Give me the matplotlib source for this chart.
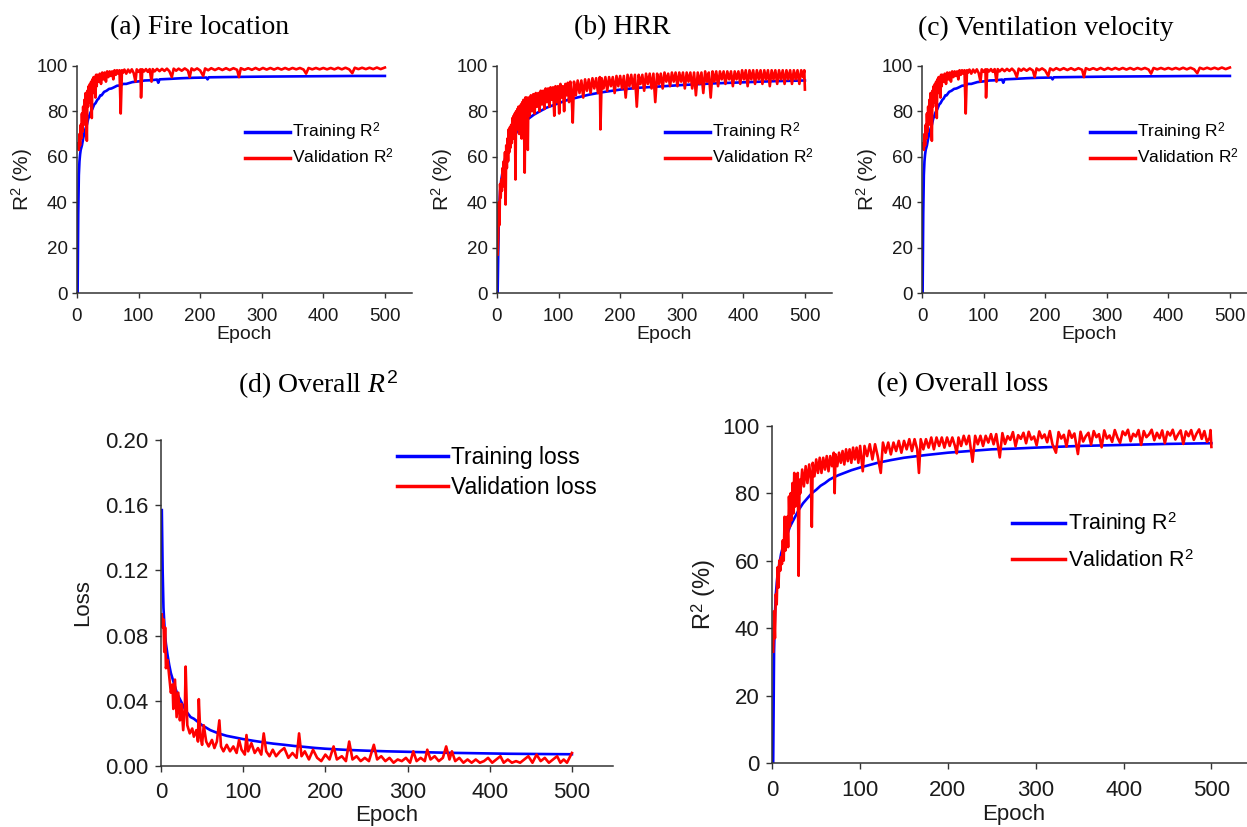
import numpy as np
import matplotlib
matplotlib.use('Agg')
import matplotlib.pyplot as plt

plt.rcParams['font.family'] = 'Liberation Sans'
plt.rcParams['mathtext.fontset'] = 'custom'
plt.rcParams['mathtext.rm'] = 'Liberation Sans'
plt.rcParams['mathtext.it'] = 'Liberation Serif:italic'

# ---- fire location / ventilation velocity R2 (%) ----
fire_train_ep = [1, 2, 3, 4, 5, 6, 8, 10, 12, 14, 16, 18, 20, 22, 25, 28, 30, 33, 35, 38, 40, 44, 48, 52,
                 56, 60, 65, 70, 75, 80, 90, 100, 110, 120, 130, 132, 134, 150, 170, 190, 210, 212, 214,
                 240, 270, 300, 350, 400, 450, 500]
fire_train = [0, 35, 52, 58, 61, 63, 65, 68, 70.5, 72.5, 74, 76.5, 78, 79.5, 81, 83, 83.5, 85, 85.5, 87,
              87, 88.5, 89, 89.8, 90, 90.5, 91.2, 91.3, 92, 92, 92.8, 93.1, 93.5, 93.6, 93.9, 92.5, 94,
              94.2, 94.5, 94.7, 94.8, 94, 94.9, 95, 95.1, 95.2, 95.3, 95.4, 95.5, 95.5]
fire_val_ep = [1, 2, 3, 4, 5, 6, 7, 8, 9, 10, 11, 12, 13, 14, 15, 16, 17, 18, 19, 20, 21, 22, 23, 24, 25,
               26, 27, 28, 29, 30, 31, 32, 33, 35, 37, 39, 41, 43, 45, 47, 49, 51, 53, 55, 57, 59, 61, 63,
               65, 67, 69, 71, 73, 75, 77, 80, 83, 86, 89, 92, 95, 97, 100, 103, 104, 106, 109, 112, 115,
               118, 121, 123, 126, 130, 134, 138, 142, 146, 150, 154, 157, 161, 165, 170, 175, 180, 183,
               186, 190, 195, 200, 205, 208, 213, 218, 224, 230, 236, 242, 248, 254, 260, 263, 266, 272,
               278, 284, 290, 296, 302, 308, 314, 320, 326, 332, 338, 344, 350, 356, 362, 368, 372, 376,
               382, 388, 394, 400, 406, 412, 418, 424, 430, 436, 442, 447, 451, 457, 463, 469, 475, 481,
               487, 493, 500]
fire_val = [64, 66, 63, 70, 65, 74, 68, 79, 71, 82, 74, 85, 77, 88, 80, 67, 89, 82, 91, 84, 92, 86, 93, 77,
            94, 88, 95, 90, 95, 86, 96, 91, 96, 93, 96.5, 92, 97, 94, 97, 93, 97.5, 95, 97.5, 95.5, 97.5,
            94, 98, 96, 98, 96.5, 98, 79, 98, 97, 98.3, 96.5, 98.3, 97, 98.4, 96.8, 93, 98.4, 97.3, 98.4,
            86, 98.4, 97.5, 98.5, 97.3, 98.5, 93, 98.5, 97.5, 98.6, 97.6, 98.6, 97.7, 98.7, 97.6, 95,
            98.7, 97.8, 98.7, 97.8, 98.8, 97.9, 95, 98.8, 98, 98.8, 97.9, 95.5, 98.8, 98, 98.9, 98.1,
            98.9, 98.1, 98.9, 98.1, 98.9, 98.2, 95, 98.9, 98.2, 98.9, 98.2, 99, 98.2, 99, 98.3, 99, 98.3,
            99, 98.3, 99, 98.3, 99, 98.4, 99, 98.3, 96.5, 99, 98.4, 99, 98.4, 99, 98.4, 99, 98.4, 99.1,
            98.4, 99.1, 98.4, 96.7, 99.1, 98.5, 99.1, 98.5, 99.1, 98.5, 99.2, 98.5, 99.2]

# ---- HRR R2 (%) ----
hrr_train_ep = [1, 2, 3, 4, 5, 7, 10, 13, 16, 20, 25, 30, 35, 40, 45, 50, 55, 60, 70, 80, 90, 100, 115,
                130, 150, 170, 200, 230, 260, 300, 350, 400, 450, 500]
hrr_train = [0, 17, 33, 40, 45, 50, 55, 59, 62, 65, 68, 70, 72, 74, 75.5, 76.5, 77.5, 78.5, 80, 81.5,
             82.5, 83.5, 85, 86, 87.3, 88.3, 89.5, 90.3, 90.8, 91.5, 92.2, 92.7, 93.2, 93.5]
hrr_val_ep = [1, 2, 3, 4, 5, 6, 7, 8, 9, 10, 11, 12, 13, 14, 15, 16, 17, 18, 19, 20, 21, 22, 23, 24, 25,
              26, 27, 28, 29, 30, 31, 32, 33, 34, 35, 36, 37, 38, 39, 40, 41, 42, 43, 44, 45, 46, 47, 48,
              50, 51, 53, 55, 57, 59, 61, 63, 65, 67, 69, 71, 73, 75, 77, 79, 81, 83, 85, 87, 89, 91, 93,
              95, 97, 99, 101, 103, 105, 107, 109, 111, 113, 115, 117, 119, 121, 123, 125, 128, 131, 134,
              137, 140, 143, 146, 149, 152, 155, 158, 161, 164, 167, 168, 170, 173, 176, 179, 182, 185,
              188, 191, 194, 197, 200, 203, 206, 209, 212, 215, 218, 221, 224, 227, 230, 233, 236, 239,
              242, 245, 248, 251, 254, 257, 260, 263, 266, 269, 272, 275, 278, 281, 284, 287, 290, 293,
              296, 299, 302, 305, 308, 311, 314, 317, 320, 323, 326, 329, 332, 335, 338, 341, 344, 347,
              350, 353, 356, 359, 362, 365, 368, 371, 374, 377, 380, 383, 386, 389, 392, 395, 398, 401,
              404, 407, 410, 413, 416, 419, 422, 425, 428, 431, 434, 437, 440, 443, 446, 449, 452, 455,
              458, 461, 464, 467, 470, 473, 476, 479, 482, 485, 488, 491, 494, 497, 499, 500]
hrr_val = [17, 25, 40, 30, 48, 42, 50, 45, 55, 47, 58, 50, 62, 39, 65, 55, 68, 58, 72, 62, 73, 64, 74, 66,
           77, 68, 78, 70, 79, 50, 80, 72, 81, 73, 82, 70, 82, 74, 83, 68, 84, 76, 85, 72, 53, 86, 77, 86,
           63, 86, 78, 87, 80, 87.5, 79, 88, 82, 88, 80, 89, 83, 89, 81, 90, 84, 90, 82, 90.5, 85, 90.5,
           78, 91, 84, 91, 79, 92, 86, 91, 80, 92, 87, 92.5, 84, 93, 88, 75, 93, 87, 93.5, 88, 93.5, 86,
           94, 89, 94, 88, 94.5, 90, 94.5, 88, 95, 72, 94.5, 90, 95, 89, 95, 91, 95, 88, 95.5, 91, 95.5,
           90, 95.5, 86, 96, 91, 96, 90, 96, 82, 96, 92, 96, 89, 96.5, 92, 96.5, 90, 96.5, 84, 96.5, 92,
           96.5, 90, 97, 93, 96.5, 91, 97, 93, 97, 91, 97, 93, 97, 90, 97, 93, 97, 90, 97, 87, 97, 92,
           97, 88, 97.5, 93, 97, 86, 97.5, 93, 97.5, 91, 97.5, 94, 97.5, 92, 97.5, 94, 97.5, 91, 97.5,
           94, 97.5, 92, 98, 94, 98, 91, 98, 94, 98, 92, 98, 94, 98, 92, 98, 94, 98, 91, 98, 94, 98, 92,
           98, 94, 98, 92, 98, 94, 98, 92, 98, 94, 98, 92, 98, 95, 98, 89.5]

# ---- overall loss ----
loss_train_ep = [1, 2, 3, 4, 5, 6, 8, 10, 12, 15, 18, 20, 23, 25, 28, 30, 33, 36, 40, 45, 50, 55, 60, 65,
                 70, 80, 90, 100, 112, 125, 137, 150, 162, 175, 187, 200, 225, 250, 275, 300, 325, 350,
                 375, 400, 425, 450, 475, 500]
loss_train = [0.157, 0.12, 0.097, 0.088, 0.08, 0.075, 0.068, 0.062, 0.057, 0.052, 0.047, 0.044, 0.041,
              0.039, 0.036, 0.034, 0.032, 0.030, 0.029, 0.027, 0.025, 0.0235, 0.022, 0.021, 0.020,
              0.0185, 0.0175, 0.0165, 0.0155, 0.0145, 0.0137, 0.013, 0.0123, 0.0117, 0.0111, 0.0106,
              0.0099, 0.0094, 0.0090, 0.0087, 0.0084, 0.0081, 0.0079, 0.0077, 0.0075, 0.0074, 0.0073,
              0.0072]
loss_val_ep = [1, 2, 3, 4, 5, 6, 8, 10, 12, 14, 15, 17, 19, 21, 23, 25, 27, 29, 30, 32, 35, 38, 40, 43,
               45, 46, 48, 50, 52, 55, 58, 62, 65, 68, 71, 73, 76, 80, 84, 88, 92, 95, 98, 102, 104, 106,
               110, 114, 118, 122, 125, 128, 132, 136, 140, 145, 150, 155, 160, 165, 168, 171, 175, 180,
               185, 190, 195, 200, 205, 210, 214, 220, 225, 229, 233, 238, 243, 248, 253, 259, 263, 268,
               273, 278, 283, 288, 293, 298, 303, 307, 311, 316, 321, 324, 328, 333, 338, 343, 347, 351,
               354, 358, 363, 368, 373, 378, 383, 388, 393, 398, 403, 408, 413, 417, 422, 427, 432, 437,
               442, 447, 452, 457, 462, 467, 472, 477, 482, 486, 490, 494, 498, 500]
loss_val = [0.093, 0.085, 0.09, 0.07, 0.085, 0.06, 0.065, 0.055, 0.045, 0.05, 0.035, 0.053, 0.03, 0.045,
            0.028, 0.038, 0.022, 0.035, 0.061, 0.025, 0.02, 0.023, 0.018, 0.022, 0.015, 0.041, 0.018,
            0.013, 0.025, 0.015, 0.012, 0.016, 0.011, 0.015, 0.028, 0.012, 0.009, 0.013, 0.009, 0.012,
            0.008, 0.016, 0.01, 0.007, 0.019, 0.009, 0.014, 0.008, 0.011, 0.007, 0.02, 0.009, 0.006, 0.01,
            0.006, 0.009, 0.011, 0.005, 0.008, 0.005, 0.02, 0.006, 0.009, 0.004, 0.01, 0.005, 0.003,
            0.007, 0.004, 0.012, 0.004, 0.006, 0.003, 0.015, 0.004, 0.006, 0.003, 0.005, 0.003, 0.013,
            0.004, 0.006, 0.003, 0.005, 0.002, 0.004, 0.003, 0.005, 0.002, 0.009, 0.003, 0.005, 0.003,
            0.01, 0.004, 0.006, 0.003, 0.005, 0.012, 0.004, 0.009, 0.003, 0.005, 0.002, 0.004, 0.002,
            0.004, 0.002, 0.003, 0.005, 0.002, 0.004, 0.006, 0.002, 0.004, 0.002, 0.003, 0.002, 0.004,
            0.006, 0.002, 0.007, 0.003, 0.005, 0.002, 0.004, 0.006, 0.002, 0.004, 0.002, 0.006, 0.008]

# ---- overall R2 (%) ----
all_train_ep = [1, 2, 3, 4, 5, 6, 8, 10, 12, 15, 18, 20, 23, 26, 30, 35, 40, 45, 50, 55, 60, 65, 70, 75,
                80, 90, 100, 110, 120, 135, 150, 175, 200, 225, 250, 275, 300, 350, 400, 450, 500]
all_train = [0, 33, 44, 50, 53, 56, 59, 62, 64, 66.5, 68.5, 70, 71.5, 73, 75, 77, 78.5, 80, 81, 82.2, 83,
             84, 84.7, 85.3, 85.8, 86.8, 87.6, 88.3, 89, 89.8, 90.5, 91.3, 92, 92.5, 93, 93.2, 93.5, 94,
             94.3, 94.6, 94.8]
all_val_ep = [1, 2, 3, 4, 5, 6, 7, 8, 9, 10, 11, 12, 13, 14, 15, 16, 17, 18, 19, 20, 21, 22, 23, 24, 25,
              26, 27, 28, 29, 30, 31, 32, 34, 36, 38, 40, 42, 44, 45, 46, 48, 50, 52, 54, 56, 58, 60, 62,
              64, 66, 68, 70, 71, 72, 74, 76, 78, 80, 82, 84, 86, 88, 90, 92, 94, 96, 98, 100, 103, 105,
              108, 111, 114, 117, 120, 123.5, 126, 129, 132, 135, 138, 141, 144, 147, 150, 153, 156, 159,
              162, 165, 167, 169, 172, 175, 178, 181, 184, 187, 190, 193, 196, 199, 202, 205, 208, 210,
              212, 215, 218, 221, 224, 228, 231, 234, 237, 240, 243, 246, 249, 252, 255, 259, 262, 265,
              268, 271, 274, 277, 280, 283, 286, 289, 292, 295, 298, 301, 304, 307, 310, 313, 316, 319,
              323, 326, 329, 332, 335, 338, 341, 344, 348, 351, 354, 357, 360, 363, 366, 369, 372, 375,
              378, 381, 384, 387, 390, 393, 396, 399, 402, 405, 408, 411, 414, 417, 420, 423, 426, 429,
              432, 435, 438, 441, 444, 447, 450, 453, 456, 459, 462, 465, 468, 471, 474, 477, 480, 483,
              486, 489, 492, 495, 498, 499, 500]
all_val = [33, 45, 37, 50, 47, 58, 52, 60, 57, 61, 59, 66, 60, 73, 63, 68, 73, 64, 79, 70, 80, 72, 83, 74,
           86, 76, 85, 78, 86, 55.5, 84, 80, 87, 82, 88, 83, 88.5, 84, 70, 89, 85, 90, 86, 90.5, 86, 90.5,
           87, 91, 86.5, 91, 88, 92, 80, 91.5, 88, 92, 89, 92.5, 88.5, 93, 89.5, 93, 89, 93.5, 90, 93.5,
           89, 94, 86.5, 94, 91, 94.5, 90, 94.5, 91, 86, 95, 92, 95, 91.5, 95, 92.5, 95.5, 92, 95.5, 93,
           96, 92.5, 96, 93, 86, 96, 93, 96, 93.5, 96.5, 93, 96.5, 94, 96.5, 93.5, 96.5, 94, 96.5, 94,
           91.8, 96.5, 94, 97, 94.5, 97, 89.3, 97, 94.5, 97, 94, 97, 95, 97.5, 94.5, 97.5, 90.6,
           97.8, 94.6, 96.9, 95.8, 98.1, 93.9, 97.2, 96.1, 97.9, 94.8, 98.2, 95.9, 96.8, 94.2, 98.3,
           96.3, 97.4, 95.1, 98.4, 94.5, 92, 98.1, 96.2, 97.3, 93.8, 98.5, 96.4, 97.7, 91.6, 98.2, 95.3,
           96.9, 97.9, 94.4, 98.4, 96.6, 97.5, 93.6, 98.6, 96.2, 97.1, 95.2, 98.7, 96.5, 94.9, 98.3,
           97.2, 98.8, 95.4, 97.6, 96.8, 98.7, 94.3, 98.4, 96.6, 97.4, 98.8, 95.7, 97.9, 96.3, 98.6,
           94.8, 98.2, 97.1, 98.8, 95.9, 97.4, 98.6, 94.6, 98.3, 96.9, 98.7, 95.8, 97.6, 98.9, 96.1,
           98.4, 95.2, 96.4, 98.7, 93.7]

BLUE = '#0000ff'
RED = '#ff0000'
SPINE = '#333333'


def drawPanel(ax, trainEp, train, valEp, val, trainLabel, valLabel, yLabel, yMax, yStep,
              tickFs, labelFs, legFs, lw, legX, legY, handleLen, labelSp, xMax=544, yFmt=None,
              xPad=7, yPad=3, xLabPad=1, yLabPad=4, tickLen=3.6, yLabFs=None):
    ax.plot(trainEp, train, color=BLUE, lw=lw, label=trainLabel)
    ax.plot(valEp, val, color=RED, lw=lw, label=valLabel)
    ax.set_xlim(0, xMax)
    ax.set_ylim(0, yMax)
    yt = np.arange(0, yMax + yStep / 2, yStep)
    ax.set_xticks(np.arange(0, 501, 100))
    ax.set_yticks(yt)
    if yFmt:
        ax.set_yticklabels([yFmt % v for v in yt])
    for s in ['top', 'right']:
        ax.spines[s].set_visible(False)
    for s in ['left', 'bottom']:
        ax.spines[s].set_color(SPINE)
        ax.spines[s].set_linewidth(1.1)
    ax.tick_params(axis='both', direction='out', length=tickLen, width=1, color=SPINE,
                   labelsize=tickFs, labelcolor='#1a1a1a')
    ax.tick_params(axis='x', pad=xPad)
    ax.tick_params(axis='y', pad=yPad)
    ax.set_xlabel('Epoch', fontsize=labelFs, labelpad=xLabPad, color='#1a1a1a')
    ax.set_ylabel(yLabel, fontsize=yLabFs or labelFs, labelpad=yLabPad, color='#1a1a1a')
    ax.legend(loc='center left', bbox_to_anchor=(legX, legY), frameon=False, fontsize=legFs,
              borderpad=0, borderaxespad=0, handlelength=handleLen, handletextpad=0.15,
              labelspacing=labelSp)
    for ln in ax.get_legend().get_lines():
        ln.set_linewidth(lw + 0.6)


W, H = 1247, 827
fig = plt.figure(figsize=(W / 100, H / 100), dpi=100)

r2Label = 'R$^{\\mathrm{2}}$ (%)'
trainR2 = 'Training R$^{\\mathrm{2}}$'
valR2 = 'Validation R$^{\\mathrm{2}}$'

# top row: three small panels
for left, ep1, v1, ep2, v2 in [(77, fire_train_ep, fire_train, fire_val_ep, fire_val),
                               (497, hrr_train_ep, hrr_train, hrr_val_ep, hrr_val),
                               (922, fire_train_ep, fire_train, fire_val_ep, fire_val)]:
    ax = fig.add_axes([left / W, 1 - 293.3 / H, 335 / W, 227.6 / H])
    drawPanel(ax, ep1, v1, ep2, v2, trainR2, valR2, r2Label, 100, 20,
              tickFs=13.5, labelFs=14, legFs=12.5, lw=1.9, legX=0.50, legY=0.656,
              handleLen=2.6, labelSp=0.25, yLabPad=1, yLabFs=15)

# bottom row
axD = fig.add_axes([161 / W, 1 - 766 / H, 452 / W, 326 / H])
drawPanel(axD, loss_train_ep, loss_train, loss_val_ep, loss_val, 'Training loss', 'Validation loss',
          'Loss', 0.2, 0.04, tickFs=16, labelFs=16, legFs=16.5, lw=1.9, legX=0.523, legY=0.899,
          handleLen=2.2, labelSp=0.3, xMax=550, yFmt='%.2f', xPad=7, yPad=5, xLabPad=2,
          yLabPad=8, tickLen=4.3)

axE = fig.add_axes([772.3 / W, 1 - 763 / H, 483 / W, 337.3 / H])
drawPanel(axE, all_train_ep, all_train, all_val_ep, all_val, trainR2, valR2, r2Label, 100, 20,
          tickFs=16, labelFs=16, legFs=15.5, lw=1.9, legX=0.496, legY=0.657, handleLen=2.45,
          labelSp=0.6, xMax=550, xPad=8, yPad=5, xLabPad=2, yLabPad=3, tickLen=4.3, yLabFs=17)

titleKw = dict(family='Liberation Serif', fontsize=20, ha='center', va='center', color='black')
fig.text(199.5 / W, 1 - 28 / H, '(a) Fire location', **titleKw)
fig.text(622 / W, 1 - 28 / H, '(b) HRR', **titleKw)
fig.text(1046 / W, 1 - 28 / H, '(c) Ventilation velocity', **titleKw)
fig.text(318 / W, 1 - 385 / H, '(d) Overall $\\mathit{R}^{\\mathit{2}}$', **titleKw)
fig.text(963 / W, 1 - 385 / H, '(e) Overall loss', **titleKw)

fig.savefig('out.png', dpi=100)
